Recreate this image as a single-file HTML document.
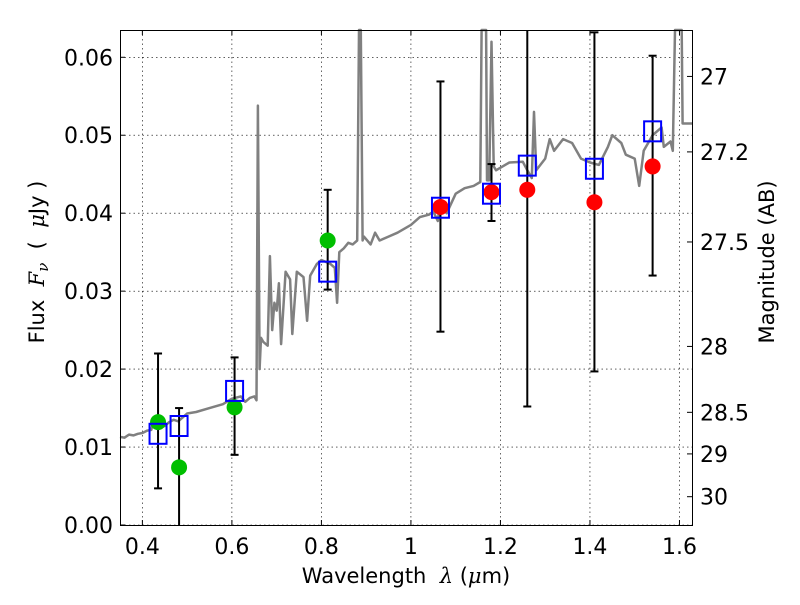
<!DOCTYPE html>
<html><head><meta charset="utf-8"><style>
body{margin:0;background:#fff;width:800px;height:600px;overflow:hidden}
text{font-family:"DejaVu Sans","Liberation Sans",sans-serif;fill:#000;white-space:pre}
</style></head><body>
<svg id="chart" width="800" height="600" xmlns="http://www.w3.org/2000/svg">
<rect x="0" y="0" width="800" height="600" fill="#fff"/>
<g id="grid"></g>
<g id="spec"></g>
<g id="errs"></g>
<g id="marks"></g>
<rect x="120.5" y="30.5" width="572" height="495" fill="none" stroke="#000" stroke-width="1"/>
<g id="ticks"></g>
<text x="406" y="583" font-size="21" text-anchor="middle">Wavelength&#160;&#160;<tspan font-style="italic" font-family="DejaVu Serif,serif">λ</tspan> (<tspan font-style="italic" font-family="DejaVu Serif,serif">μ</tspan>m)</text>
<text transform="translate(44,262) rotate(-90)" font-size="21" text-anchor="middle">Flux&#160;&#160;<tspan font-style="italic" font-family="DejaVu Serif,serif">F<tspan font-size="15" dy="4">ν</tspan></tspan><tspan dy="-4">&#160;&#160;(&#160;&#160;</tspan><tspan font-style="italic" font-family="DejaVu Serif,serif">μ</tspan>Jy )</text>
<text transform="translate(774,262) rotate(-90)" font-size="21" text-anchor="middle">Magnitude (AB)</text>
</svg>
<script>
const xTicks=[0.4,0.6,0.8,1.0,1.2,1.4,1.6];
const xTickLabels=["0.4","0.6","0.8","1","1.2","1.4","1.6"];
const yTicks=[0,0.01,0.02,0.03,0.04,0.05,0.06];
const yTickLabels=["0.00","0.01","0.02","0.03","0.04","0.05","0.06"];
const magTicks=[27,27.2,27.5,28,28.5,29,30];
const magTickLabels=["27","27.2","27.5","28","28.5","29","30"];
const specWave=[0.35,0.36,0.37,0.38,0.39,0.40,0.41,0.42,0.425,0.43,0.44,0.45,0.46,0.47,0.48,0.49,0.50,0.52,0.55,0.58,0.60,0.62,0.63,0.64,0.65,0.655,0.658,0.662,0.665,0.67,0.68,0.685,0.69,0.695,0.70,0.705,0.71,0.72,0.73,0.735,0.745,0.76,0.768,0.775,0.79,0.80,0.82,0.83,0.835,0.84,0.85,0.86,0.87,0.88,0.884,0.888,0.892,0.895,0.91,0.92,0.93,0.95,0.97,1.0,1.02,1.04,1.05,1.06,1.065,1.08,1.10,1.12,1.14,1.155,1.158,1.168,1.17,1.175,1.18,1.185,1.19,1.22,1.25,1.26,1.27,1.275,1.28,1.30,1.31,1.32,1.34,1.36,1.38,1.40,1.42,1.44,1.45,1.47,1.48,1.50,1.51,1.52,1.54,1.56,1.565,1.58,1.585,1.59,1.605,1.607,1.628];
const specFlux=[0.0113,0.0112,0.0116,0.0115,0.0117,0.0118,0.0121,0.0122,0.0135,0.0128,0.0125,0.0127,0.0132,0.0135,0.0133,0.0138,0.0143,0.0145,0.0150,0.0155,0.0162,0.0165,0.0158,0.0163,0.0165,0.0160,0.0538,0.0200,0.0240,0.0235,0.0230,0.0345,0.0250,0.0285,0.0275,0.0310,0.0232,0.0325,0.0315,0.0245,0.0325,0.0318,0.0262,0.0320,0.0335,0.0340,0.0335,0.0330,0.0285,0.0350,0.0355,0.0362,0.0360,0.0365,0.0700,0.0700,0.0365,0.0370,0.0360,0.0375,0.0365,0.0370,0.0375,0.0385,0.0395,0.0398,0.0402,0.0390,0.0412,0.0400,0.0425,0.0432,0.0435,0.0440,0.0800,0.0800,0.0442,0.0442,0.0620,0.0460,0.0455,0.0465,0.0466,0.0455,0.0445,0.0530,0.0455,0.0470,0.0495,0.0480,0.0495,0.0490,0.0470,0.0465,0.0462,0.0485,0.0500,0.0490,0.0475,0.0470,0.0435,0.0480,0.0500,0.0510,0.0485,0.0492,0.0480,0.0800,0.0800,0.0515,0.0515];
const obsWave=[0.435,0.482,0.606,0.814];
const obsFlux=[0.0132,0.0074,0.0151,0.0365];
const obsLo=[0.0047,-0.002,0.0090,0.0302];
const obsHi=[0.0220,0.0150,0.0215,0.0430];
const irWave=[1.066,1.18,1.26,1.41,1.54];
const irFlux=[0.0408,0.0427,0.0430,0.0414,0.0460];
const irLo=[0.0248,0.0390,0.0152,0.0197,0.0320];
const irHi=[0.0569,0.0463,0.0700,0.0632,0.0602];
const modelWave=[0.435,0.482,0.606,0.814,1.066,1.18,1.26,1.41,1.54];
const modelFlux=[0.0117,0.0127,0.0172,0.0325,0.0407,0.0425,0.0461,0.0457,0.0505];

const X0=120,X1=692,Y0=525,Y1=30,xmin=0.35,xmax=1.628,ymin=0,ymax=0.0635;
const xs=v=>X0+(v-xmin)/(xmax-xmin)*(X1-X0);
const ys=v=>Y0-(v-ymin)/(ymax-ymin)*(Y0-Y1);
const ns="http://www.w3.org/2000/svg";
function mk(tag,attrs,parent){const e=document.createElementNS(ns,tag);for(const k in attrs)e.setAttribute(k,attrs[k]);document.getElementById(parent).appendChild(e);return e;}
const clamp=v=>Math.max(Y1,Math.min(Y0,v));

xTicks.forEach((t,i)=>{
  const g=mk('line',{x1:xs(t),x2:xs(t),y1:Y1,y2:Y0,stroke:'#000','stroke-width':0.6,'stroke-dasharray':'1.5,3'},'grid');
  
  
  const a=mk('line',{x1:xs(t),x2:xs(t),y1:Y0,y2:Y0-5,stroke:'#000'},'ticks');
  
  
  const b=mk('line',{x1:xs(t),x2:xs(t),y1:Y1,y2:Y1+5,stroke:'#000'},'ticks');
  
  
  const l=mk('text',{x:xs(t),y:554,'font-size':22,'text-anchor':'middle'},'ticks');
  l.textContent=xTickLabels[i];
  
  
});
yTicks.forEach((t,i)=>{
  const g=mk('line',{x1:X0,x2:X1,y1:ys(t),y2:ys(t),stroke:'#000','stroke-width':0.6,'stroke-dasharray':'1.5,3'},'grid');
  
  
  const a=mk('line',{x1:X0,x2:X0+5,y1:ys(t),y2:ys(t),stroke:'#000'},'ticks');
  
  
  const l=mk('text',{x:113,y:ys(t)+8,'font-size':22,'text-anchor':'end'},'ticks');
  l.textContent=yTickLabels[i];
  
  
});
magTicks.forEach((m,i)=>{
  const f=Math.pow(10,(23.9-m)/2.5);
  const a=mk('line',{x1:X1-5,x2:X1,y1:ys(f),y2:ys(f),stroke:'#000'},'ticks');
  
  
  const l=mk('text',{x:700,y:ys(f)+8,'font-size':22},'ticks');
  l.textContent=magTickLabels[i];
  
  
});
const pts=specWave.map((w,i)=>xs(w).toFixed(1)+','+clamp(ys(specFlux[i])).toFixed(1)).join(' ');
const sp=mk('polyline',{points:pts,fill:'none',stroke:'#808080','stroke-width':2.5,'stroke-linejoin':'round'},'spec');


function err(w,lo,hi){
  const x=xs(w),a=clamp(ys(lo)),b=clamp(ys(hi));
  const v=mk('line',{x1:x,x2:x,y1:a,y2:b,stroke:'#000','stroke-width':2},'errs');
  
  
  [lo,hi].forEach(q=>{const y=ys(q);if(y>Y1&&y<Y0){const c=mk('line',{x1:x-4,x2:x+4,y1:y,y2:y,stroke:'#000','stroke-width':2},'errs');
    
    }});
}
obsWave.forEach((w,i)=>err(w,obsLo[i],obsHi[i]));
irWave.forEach((w,i)=>err(w,irLo[i],irHi[i]));
obsWave.forEach((w,i)=>{const c=mk('circle',{cx:xs(w),cy:ys(obsFlux[i]),r:8,fill:'#00bf00'},'marks');
  
  });
irWave.forEach((w,i)=>{const c=mk('circle',{cx:xs(w),cy:ys(irFlux[i]),r:8,fill:'#ff0000'},'marks');
  
  });
modelWave.forEach((w,i)=>{const r=mk('rect',{x:xs(w)-8.5,y:ys(modelFlux[i])-10,width:17,height:20,fill:'none',stroke:'#0000ff','stroke-width':2},'marks');
  
  });
</script>
</body></html>
